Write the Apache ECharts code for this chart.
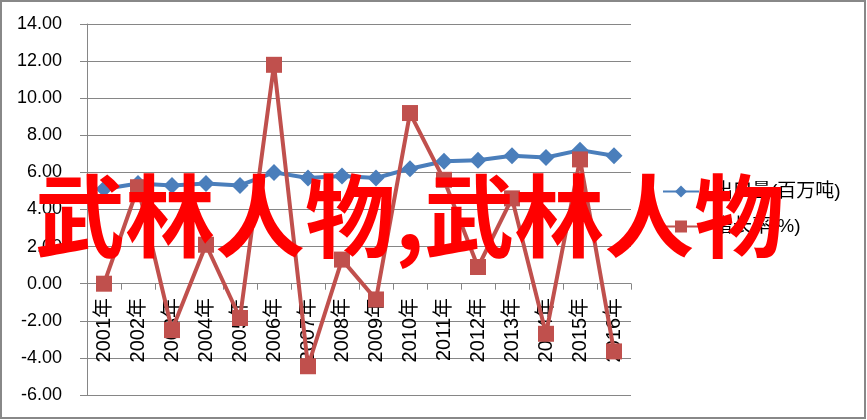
<!DOCTYPE html>
<html>
<head>
<meta charset="utf-8">
<script src="https://cdn.jsdelivr.net/npm/echarts@6/dist/echarts.min.js"></script>
<style>
  html, body { margin: 0; padding: 0; background: #fff; }
  #chart { width: 867px; height: 420px; }
</style>
</head>
<body>
<div id="chart"></div>
<script>
const years = ["2001年","2002年","2003年","2004年","2005年","2006年","2007年","2008年",
               "2009年","2010年","2011年","2012年","2013年","2014年","2015年","2016年"];
const exportVol = [5.1, 5.4, 5.3, 5.4, 5.3, 6.0, 5.7, 5.8, 5.7, 6.2, 6.6, 6.65, 6.9, 6.8, 7.2, 6.9];
const growthRate = [0.0, 5.2, -2.5, 2.1, -1.85, 11.8, -4.45, 1.3, -0.85, 9.2, 5.6, 0.9, 4.6, -2.7, 6.7, -3.65];
const seriesNames = ["出口量(百万吨)", "增长率(%)"];
const watermark = "武林人物,武林人物";

const font = "'Liberation Sans', 'Noto Sans CJK SC', sans-serif";
const gridGray = "#868686";

const chart = echarts.init(document.getElementById("chart"));

chart.setOption({
  animation: false,
  backgroundColor: "#fff",
  textStyle: { fontFamily: font },
  grid: { left: 87, right: 236, top: 24, bottom: 25, containLabel: false, outerBoundsMode: "none" },
  legend: {
    orient: "vertical",
    left: 662,
    top: 182,
    padding: 0,
    itemWidth: 36,
    itemHeight: 15,
    itemGap: 16,
    textStyle: { fontSize: 19, color: "#000", fontFamily: font, padding: [0, 0, 0, 10] },
    data: seriesNames
  },
  xAxis: {
    type: "category",
    data: years,
    boundaryGap: true,
    axisLine: { onZero: true, lineStyle: { color: gridGray, width: 1 } },
    axisTick: { show: true, length: 6, lineStyle: { color: gridGray } },
    // labels sit just under the zero line, as in the reference
    axisLabel: { rotate: 90, margin: -97, fontSize: 20, color: "#000", interval: 0, fontFamily: font },
    splitLine: { show: false }
  },
  yAxis: {
    type: "value",
    min: -6,
    max: 14,
    interval: 2,
    axisLine: { show: true, lineStyle: { color: gridGray } },
    axisTick: { show: true, length: 7, lineStyle: { color: gridGray } },
    axisLabel: { fontSize: 18, color: "#000", margin: 25, fontFamily: font, formatter: v => v.toFixed(2) },
    splitLine: { lineStyle: { color: gridGray, width: 1 } }
  },
  series: [
    {
      name: seriesNames[0],
      type: "line",
      data: exportVol,
      symbol: "diamond",
      symbolSize: 17,
      color: "#4A7EBB",
      lineStyle: { width: 4, color: "#4A7EBB" },
      itemStyle: { color: "#4A7EBB" }
    },
    {
      name: seriesNames[1],
      type: "line",
      data: growthRate,
      symbol: "rect",
      symbolSize: 16,
      color: "#C0504D",
      lineStyle: { width: 4, color: "#C0504D" },
      itemStyle: { color: "#C0504D" }
    }
  ],
  graphic: [
    {
      type: "rect",
      shape: { x: 1, y: 1, width: 864, height: 417 },
      style: { fill: "none", stroke: "#888", lineWidth: 2 },
      z: 100
    },
    {
      type: "text",
      left: 35,
      top: 171,
      z: 200,
      style: {
        text: watermark,
        fill: "#FF0000",
        font: "bold 90px 'Noto Sans CJK SC', sans-serif"
      }
    }
  ]
});
</script>
</body>
</html>
